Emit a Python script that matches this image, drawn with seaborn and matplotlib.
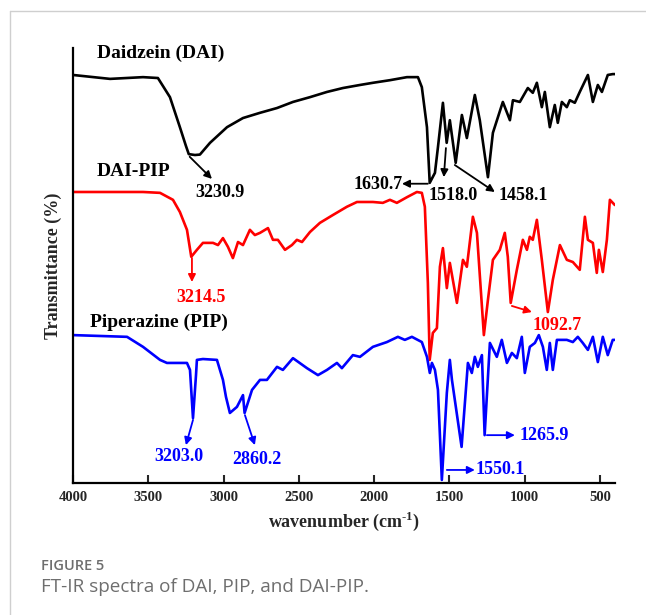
import numpy as np
import pandas as pd
import matplotlib
matplotlib.use("Agg")
import matplotlib.pyplot as plt
from matplotlib.lines import Line2D
import seaborn as sns

# ---- spectra (wavenumber in cm^-1, stacked transmittance in arbitrary %) ----
dai_wn = [4000, 3754, 3535, 3436, 3356, 3290, 3250, 3231, 3190, 3157, 3090, 2977,
          2871, 2758, 2645, 2539, 2426, 2313, 2207, 2094, 2008, 1895, 1782, 1709,
          1683, 1649, 1630.7, 1596, 1576, 1543, 1518.0, 1497, 1458.1, 1417, 1384,
          1331, 1298, 1244, 1211, 1145, 1098, 1078, 1032, 979, 946, 919, 886, 866,
          833, 800, 780, 753, 720, 700, 667, 634, 580, 547, 514, 487, 448, 415, 400]
dai_t = [93.8, 92.9, 93.3, 93.1, 88.7, 81.8, 77.5, 75.6, 75.4, 75.5, 78.2, 81.8,
         83.9, 85.1, 86.2, 87.6, 88.7, 89.9, 90.8, 91.5, 92.0, 92.6, 93.3, 93.3,
         91.0, 81.8, 69.0, 71.3, 77.2, 87.4, 78.2, 83.4, 73.6, 84.6, 79.3,
         89.2, 83.4, 70.3, 80.5, 87.6, 83.4, 88.0, 87.6, 90.8, 89.7, 92.0, 86.4, 89.9,
         81.8, 86.9, 82.8, 87.6, 86.4, 88.0, 87.4, 89.9, 93.8, 87.6, 91.5, 89.9, 93.8, 94.0, 94.0]

daipip_wn = [4000, 3535, 3422, 3336, 3290, 3243, 3214.5, 3177, 3137, 3070, 3037, 3004,
             2971, 2938, 2904, 2871, 2825, 2792, 2758, 2705, 2672, 2639, 2592, 2546,
             2513, 2479, 2426, 2360, 2274, 2181, 2114, 2008, 1942, 1895, 1849, 1782,
             1716, 1683, 1663, 1643, 1630.7, 1610, 1583, 1563, 1543, 1517, 1497, 1450,
             1410, 1384, 1344, 1317, 1271, 1244, 1211, 1165, 1132, 1112, 1092.7, 1052,
             1012, 985, 966, 946, 919, 886, 846, 813, 766, 720, 680, 634, 600, 580,
             547, 521, 507, 481, 454, 434, 401]
daipip_t = [66.9, 66.9, 66.7, 65.1, 62.3, 58.2, 52.0, 53.6, 55.2, 55.2, 54.7, 56.3,
            54.3, 51.7, 55.4, 54.7, 58.2, 57.0, 57.5, 58.6, 55.9, 55.9, 53.6, 54.7,
            55.9, 55.4, 57.7, 59.8, 61.6, 63.5, 64.6, 64.6, 64.4, 65.1, 64.4, 65.7,
            66.9, 66.7, 63.5, 46.0, 28.3, 34.5, 35.6, 49.7, 54.0, 44.8, 50.6, 41.4,
            51.3, 49.7, 61.2, 57.5, 34.0, 42.1, 51.3, 53.6, 57.5, 52.0, 41.4, 49.0,
            55.9, 53.6, 56.6, 55.9, 60.5, 51.3, 39.3, 46.7, 54.7, 51.3, 50.8, 49.0, 61.2, 55.9,
            55.2, 48.3, 53.6, 48.5, 55.9, 65.1, 63.9]

pip_wn = [4000, 3641, 3535, 3422, 3376, 3243, 3223, 3203.0, 3183, 3177, 3137, 3044,
          3004, 2984, 2958, 2911, 2871, 2860.2, 2811, 2758, 2712, 2645, 2606, 2539,
          2446, 2373, 2313, 2247, 2214, 2141, 2094, 2008, 1915, 1842, 1796, 1749,
          1683, 1649, 1630, 1616, 1596, 1576, 1550.1, 1517, 1497, 1483, 1419, 1377,
          1351, 1331, 1311, 1284, 1265.9, 1231, 1185, 1152, 1118, 1085, 1052, 1019,
          999, 966, 932, 906, 879, 853, 833, 813, 786, 720, 680, 647, 614, 580, 547,
          514, 481, 448, 415, 401]
pip_t = [34.0, 33.6, 31.3, 28.3, 27.6, 27.6, 26.0, 14.9, 24.8, 28.3, 28.5, 28.3,
         23.7, 19.8, 16.1, 17.5, 20.2, 16.1, 21.4, 23.7, 23.7, 26.7, 26.0, 28.7,
         26.4, 24.8, 26.0, 27.6, 26.4, 29.4, 29.0, 31.3, 32.4, 33.6, 32.9, 33.6,
         32.4, 29.0, 25.3, 27.6, 26.0, 21.4, 0.7, 20.7, 28.3, 23.7, 8.3, 27.6,
         25.3, 29.0, 26.7, 29.4, 11.0, 32.2, 29.0, 32.9, 27.6, 29.9, 28.7, 33.6,
         25.3, 31.3, 32.2, 34.0, 31.3, 26.0, 32.2, 26.0, 32.9, 32.9, 32.4, 33.6, 32.2, 30.6, 33.6,
         27.8, 33.6, 29.4, 32.9, 32.9]

series_names = ["Daidzein (DAI)", "DAI-PIP", "Piperazine (PIP)"]
series_colors = ["#000000", "#ff0000", "#0000ff"]
x_ticks = [4000, 3500, 3000, 2500, 2000, 1500, 1000, 500]

# ---- style ----
sns.set_style("white")
plt.rcParams["font.family"] = ["Liberation Serif", "DejaVu Serif"]
plt.rcParams["font.weight"] = "bold"
plt.rcParams["mathtext.fontset"] = "custom"
plt.rcParams["mathtext.rm"] = "Liberation Serif:bold"
plt.rcParams["mathtext.bf"] = "Liberation Serif:bold"

fig = plt.figure(figsize=(6.46, 6.15), dpi=100)
ax = fig.add_axes([73 / 646, 1 - 483 / 615, (615 - 73) / 646, (483 - 48) / 615])

frames = [
    pd.DataFrame({"wn": dai_wn, "t": dai_t}),
    pd.DataFrame({"wn": daipip_wn, "t": daipip_t}),
    pd.DataFrame({"wn": pip_wn, "t": pip_t}),
]
for df, col in zip(frames, series_colors):
    sns.lineplot(data=df, x="wn", y="t", color=col, linewidth=1.9,
                 sort=False, estimator=None, ax=ax,
                 solid_joinstyle="round", solid_capstyle="round")

ax.set_xlim(4000, 400)
ax.set_ylim(0, 100)
ax.set_xticks(x_ticks)
ax.set_xticklabels([str(v) for v in x_ticks], fontsize=10.5, fontweight="bold")
ax.set_yticks([])
ax.tick_params(axis="x", direction="in", length=6, width=1.5, pad=6, bottom=True)
for side in ["top", "right"]:
    ax.spines[side].set_visible(False)
for side in ["left", "bottom"]:
    ax.spines[side].set_linewidth(1.6)
    ax.spines[side].set_color("black")

ax.set_xlabel(r"wavenumber (cm$^{\text{-1}}$)", fontsize=13, fontweight="bold", labelpad=4)
ax.set_ylabel("Transmittance (%)", fontsize=13, fontweight="bold", labelpad=8)

# ---- series names ----
name_pos = [(3841, 98.8), (3841, 71.7), (3887, 37.0)]
for name, (x, y) in zip(series_names, name_pos):
    ax.text(x, y, name, fontsize=14, fontweight="bold", color="black",
            ha="left", va="center", clip_on=False)

# ---- peak annotations: (label, colour, arrow tail, arrow head, text pos, ha) ----
peaks = [
    ("3230.9", "black", (3225, 75.0), (3077, 69.9), (3024, 66.7), "center"),
    ("1630.7", "black", (1643, 68.8), (1815, 68.8), (1812, 68.6), "right"),
    ("1518.0", "black", (1523, 77.0), (1537, 70.3), (1477, 66.2), "center"),
    ("1458.1", "black", (1464, 73.1), (1198, 66.9), (1012, 66.2), "center"),
    ("3214.5", "#ff0000", (3210, 51.7), (3210, 46.2), (3150, 42.6), "center"),
    ("1092.7", "#ff0000", (1085, 40.7), (952, 39.3), (786, 36.3), "center"),
    ("3203.0", "#0000ff", (3203, 14.5), (3250, 8.7), (3296, 6.0), "center"),
    ("2860.2", "#0000ff", (2858, 15.6), (2792, 8.7), (2778, 5.5), "center"),
    ("1550.1", "#0000ff", (1517, 3.0), (1331, 3.0), (1326, 3.0), "left"),
    ("1265.9", "#0000ff", (1251, 11.0), (1065, 11.0), (1034, 11.0), "left"),
]
for label, col, tail, head, tpos, ha in peaks:
    ax.annotate("", xy=head, xytext=tail,
                arrowprops=dict(arrowstyle="-|>", color=col, lw=1.3,
                                mutation_scale=11, shrinkA=0, shrinkB=0))
    ax.text(tpos[0], tpos[1], label, color=col, fontsize=13, fontweight="bold",
            ha=ha, va="center", clip_on=False)

# ---- page frame and caption ----
fig.add_artist(Line2D([9.5 / 646, 1.0], [1 - 10.5 / 615] * 2, transform=fig.transFigure,
                      color="#cfcfcf", lw=1.0))
fig.add_artist(Line2D([9.5 / 646] * 2, [0.0, 1 - 10.5 / 615], transform=fig.transFigure,
                      color="#cfcfcf", lw=1.0))
fig.text(41 / 646, 1 - 566 / 615, "FIGURE 5", fontsize=10.5, fontweight="semibold",
         color="#6e6e6e", family=["Open Sans", "DejaVu Sans"], ha="left", va="center")
fig.text(41 / 646, 1 - 587 / 615, "FT-IR spectra of DAI, PIP, and DAI-PIP.", fontsize=13.6,
         fontweight="normal", color="#6e6e6e", family=["Open Sans", "DejaVu Sans"],
         ha="left", va="center")

fig.savefig("out.png", dpi=100)
